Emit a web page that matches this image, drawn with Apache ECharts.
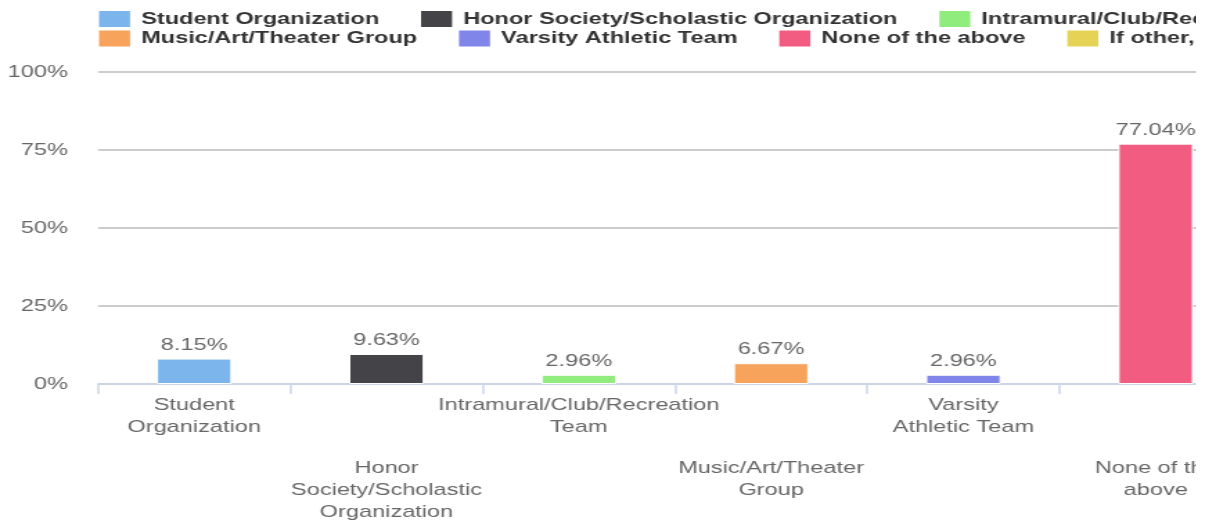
<!DOCTYPE html>
<html>
<head>
<meta charset="utf-8">
<script src="https://cdn.jsdelivr.net/npm/echarts@6/dist/echarts.min.js"></script>
<style>
  html, body { margin: 0; padding: 0; background: #fff; }
  /* the picture is stretched sideways and cut on the right */
  #clip { width: 1196px; height: 527px; overflow: hidden; position: relative; }
  #chart { width: 1100px; height: 527px; transform: scaleX(1.385); transform-origin: 0 0; }
</style>
</head>
<body>
<div id="clip"><div id="chart"></div></div>
<script>
// series names (legend)
var names = ['Student Organization', 'Honor Society/Scholastic Organization', 'Intramural/Club/Recreation Team',
  'Music/Art/Theater Group', 'Varsity Athletic Team', 'None of the above', 'If other, please specify'];
// x axis tick labels (wrapped like the original)
var tickLabels = ['Student\nOrganization', 'Honor\nSociety/Scholastic\nOrganization', 'Intramural/Club/Recreation\nTeam',
  'Music/Art/Theater\nGroup', 'Varsity\nAthletic Team', 'None of the\nabove', 'If other,\nplease specify'];
// percent of respondents
var values = [8.15, 9.63, 2.96, 6.67, 2.96, 77.04, 0.74];
var colors = ['#7cb5ec', '#434348', '#90ed7d', '#f7a35c', '#8085e9', '#f15c80', '#e4d354'];
var yTicks = [0, 25, 50, 75, 100];

var font = '"Liberation Sans", Arial, sans-serif';

var series = [];
for (var i = 0; i < names.length; i++) {
  var d = [];
  for (var j = 0; j < values.length; j++) d.push(j === i ? values[j] : '-');
  series.push({
    name: names[i],
    type: 'bar',
    data: d,
    barWidth: '39%',
    barGap: '-100%',
    itemStyle: { color: colors[i], borderColor: '#ffffff', borderWidth: 1 },
    label: {
      show: true,
      position: 'top',
      distance: 5,
      formatter: '{c}%',
      color: '#666666',
      fontSize: 17,
      fontFamily: font
    }
  });
}

function legendRow(list, top) {
  return {
    data: list,
    left: 71.5,
    top: top,
    padding: 0,
    orient: 'horizontal',
    itemWidth: 22.4,
    itemHeight: 16,
    itemGap: 30.2,
    icon: 'rect',
    selectedMode: false,
    itemStyle: { borderWidth: 0 },
    textStyle: {
      color: '#333333',
      fontWeight: 'bold',
      fontSize: 17,
      lineHeight: 16,
      fontFamily: font,
      padding: [0, 0, 0, 3]
    }
  };
}

var chart = echarts.init(document.getElementById('chart'));
chart.setOption({
  animation: false,
  legend: [legendRow(names.slice(0, 3), 10.5), legendRow(names.slice(3), 30)],
  grid: { left: 70.8, top: 72, width: 971.9, bottom: 143, containLabel: false, outerBoundsMode: 'none' },
  xAxis: {
    type: 'category',
    data: tickLabels,
    axisLine: { lineStyle: { color: '#ccd6eb', width: 1.5 } },
    axisTick: { show: true, length: 10, lineStyle: { color: '#ccd6eb', width: 1.5 } },
    axisLabel: {
      interval: 0,
      margin: 10,
      color: '#666666',
      fontSize: 17,
      lineHeight: 22,
      fontFamily: font,
      formatter: function (v, idx) {
        var lines = v.split('\n').map(function (s) { return '{t|' + s + '}'; }).join('\n');
        return idx % 2 === 1 ? '{sp| }\n' + lines : lines;
      },
      rich: {
        t: { color: '#666666', fontSize: 17, lineHeight: 22, fontFamily: font },
        sp: { fontSize: 1, lineHeight: 63 }
      }
    }
  },
  yAxis: {
    type: 'value',
    min: yTicks[0],
    max: yTicks[yTicks.length - 1],
    interval: yTicks[1] - yTicks[0],
    axisLine: { show: false },
    axisTick: { show: false },
    splitLine: { lineStyle: { color: '#cccccc', width: 2 } },
    axisLabel: { formatter: '{value}%', margin: 21.7, color: '#666666', fontSize: 17, fontFamily: font }
  },
  series: series
});
</script>
</body>
</html>
